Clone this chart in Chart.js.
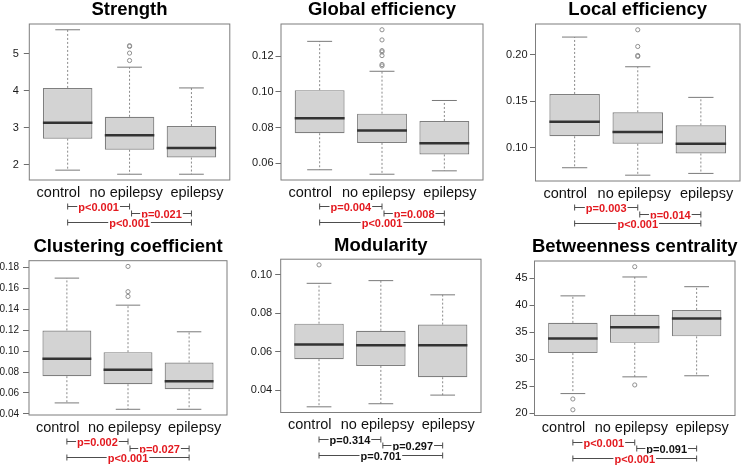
<!DOCTYPE html>
<html><head><meta charset="utf-8">
<script src="https://cdn.jsdelivr.net/npm/chart.js@4.4.0/dist/chart.umd.min.js"></script>
<style>
html,body{margin:0;padding:0;background:#fff;overflow:hidden;width:742px;height:466px;position:relative}
canvas{position:absolute}
</style></head><body>
<script>
// ---------- data ----------
const categories = ['control', 'no epilepsy', 'epilepsy'];
const bracketPairs = [[1, 2], [2, 3], [1, 3]];

const strengthTitle = 'Strength';
const strengthMin = [1.86, 1.75, 1.75];
const strengthQ1 = [2.71, 2.41, 2.20];
const strengthMedian = [3.14, 2.80, 2.46];
const strengthQ3 = [4.08, 3.30, 3.05];
const strengthMax = [5.65, 4.64, 4.08];
const strengthOutliers = [[], [5.22, 5.20, 5.02, 4.82], []];
const strengthTicks = ['2', '3', '4', '5'];
const strengthP = ['p<0.001', 'p=0.021', 'p<0.001'];

const globalTitle = 'Global efficiency';
const globalMin = [0.0563, 0.0538, 0.0557];
const globalQ1 = [0.0768, 0.0714, 0.0649];
const globalMedian = [0.0852, 0.0783, 0.0712];
const globalQ3 = [0.1010, 0.0878, 0.0837];
const globalMax = [0.1284, 0.1116, 0.0952];
const globalOutliers = [[], [0.1349, 0.1292, 0.1232, 0.1225, 0.1204, 0.1154, 0.1146], []];
const globalTicks = ['0.06', '0.08', '0.10', '0.12'];
const globalP = ['p=0.004', 'p=0.008', 'p<0.001'];

const localTitle = 'Local efficiency';
const localMin = [0.0786, 0.0706, 0.0725];
const localQ1 = [0.1124, 0.1043, 0.0939];
const localMedian = [0.1279, 0.1171, 0.1043];
const localQ3 = [0.1579, 0.1382, 0.1242];
const localMax = [0.2190, 0.1871, 0.1542];
const localOutliers = [[], [0.2268, 0.2089, 0.1992, 0.1982], []];
const localTicks = ['0.10', '0.15', '0.20'];
const localP = ['p=0.003', 'p=0.014', 'p<0.001'];

const clusteringTitle = 'Clustering coefficient';
const clusteringMin = [0.0505, 0.0444, 0.0444];
const clusteringQ1 = [0.0761, 0.0684, 0.0636];
const clusteringMedian = [0.0927, 0.0822, 0.0713];
const clusteringQ3 = [0.1199, 0.0991, 0.0892];
const clusteringMax = [0.1700, 0.1441, 0.1186];
const clusteringOutliers = [[], [0.1812, 0.1570, 0.1525], []];
const clusteringTicks = ['0.04', '0.06', '0.08', '0.10', '0.12', '0.14', '0.16', '0.18'];
const clusteringP = ['p=0.002', 'p=0.027', 'p<0.001'];

const modularityTitle = 'Modularity';
const modularityMin = [0.0313, 0.0329, 0.0374];
const modularityQ1 = [0.0561, 0.0526, 0.0467];
const modularityMedian = [0.0638, 0.0633, 0.0633];
const modularityQ3 = [0.0746, 0.0709, 0.0741];
const modularityMax = [0.0956, 0.0970, 0.0896];
const modularityOutliers = [[0.1052], [], []];
const modularityTicks = ['0.04', '0.06', '0.08', '0.10'];
const modularityP = ['p=0.314', 'p=0.297', 'p=0.701'];

const betweennessTitle = 'Betweenness centrality';
const betweennessMin = [23.6, 26.7, 26.9];
const betweennessQ1 = [31.1, 33.0, 34.2];
const betweennessMedian = [33.8, 35.9, 37.5];
const betweennessQ3 = [36.7, 38.2, 39.1];
const betweennessMax = [41.7, 45.2, 43.4];
const betweennessOutliers = [[22.6, 20.6], [47.1, 25.2], []];
const betweennessTicks = ['20', '25', '30', '35', '40', '45'];
const betweennessP = ['p<0.001', 'p=0.091', 'p<0.001'];

// ---------- layout (kept apart from the data) ----------
// where the category labels sit along the x axis (the source spreads them a little)
const xLabelPositions = [0.85, 1.945, 3.09];

const panels = [
  { title: strengthTitle, min: strengthMin, q1: strengthQ1, med: strengthMedian, q3: strengthQ3, max: strengthMax, out: strengthOutliers, ticks: strengthTicks, p: strengthP,
    L: 29.3, R: 229.8, T: 24, B: 180, tickFont: 11, tickLen: 5.5, tickPad: 5 },
  { title: globalTitle, min: globalMin, q1: globalQ1, med: globalMedian, q3: globalQ3, max: globalMax, out: globalOutliers, ticks: globalTicks, p: globalP,
    L: 281, R: 483, T: 24, B: 180, tickFont: 11, tickLen: 5.5, tickPad: 2 },
  { title: localTitle, min: localMin, q1: localQ1, med: localMedian, q3: localQ3, max: localMax, out: localOutliers, ticks: localTicks, p: localP,
    L: 535.5, R: 740, T: 24, B: 181, tickFont: 11, tickLen: 5.5, tickPad: 2.5 },
  { title: clusteringTitle, min: clusteringMin, q1: clusteringQ1, med: clusteringMedian, q3: clusteringQ3, max: clusteringMax, out: clusteringOutliers, ticks: clusteringTicks, p: clusteringP,
    L: 29, R: 227, T: 260.7, B: 415, tickFont: 10, tickLen: 6, tickPad: 4 },
  { title: modularityTitle, min: modularityMin, q1: modularityQ1, med: modularityMedian, q3: modularityQ3, max: modularityMax, out: modularityOutliers, ticks: modularityTicks, p: modularityP,
    L: 280.7, R: 481, T: 259.2, B: 412.5, tickFont: 11, tickLen: 5.5, tickPad: 3 },
  { title: betweennessTitle, min: betweennessMin, q1: betweennessQ1, med: betweennessMedian, q3: betweennessQ3, max: betweennessMax, out: betweennessOutliers, ticks: betweennessTicks, p: betweennessP,
    L: 534.5, R: 735, T: 261, B: 415.5, tickFont: 11, tickLen: 5, tickPad: 2 }
];

const FONT = '"Liberation Sans", Arial, Helvetica, sans-serif';
const AXIS_W = 32, TITLE_H = 24.5, XAXIS_H = 50;

function sigColor(p) {
  const v = parseFloat(p.replace(/^p[<=]/, ''));
  return v < 0.05 ? '#e3191f' : '#111111';
}

const framePlugin = {
  id: 'frame',
  beforeDatasetsDraw(chart) {
    const { ctx, chartArea: a } = chart;
    ctx.save();
    ctx.strokeStyle = '#7d7d7d';
    ctx.lineWidth = 1;
    ctx.strokeRect(a.left, a.top, a.right - a.left, a.bottom - a.top);
    ctx.restore();
  }
};

const bracketPlugin = {
  id: 'brackets',
  afterDraw(chart, args, opts) {
    const xs = chart.scales.x, ctx = chart.ctx, b = chart.chartArea.bottom;
    const offs = [26, 32.5, 42];
    ctx.save();
    ctx.font = 'bold 11px ' + FONT;
    ctx.textAlign = 'center';
    ctx.textBaseline = 'middle';
    (opts.pvals || []).forEach((p, k) => {
      const pr = bracketPairs[k];
      const x1 = xs.getPixelForValue(pr[0]) + (k === 1 ? 2 : 0);
      const x2 = xs.getPixelForValue(pr[1]);
      const y = Math.round(b + offs[k]) + 0.5;
      ctx.strokeStyle = '#4d4d4d';
      ctx.lineWidth = 1;
      ctx.beginPath();
      ctx.moveTo(x1, y); ctx.lineTo(x2, y);
      ctx.moveTo(x1, y - 3); ctx.lineTo(x1, y + 3);
      ctx.moveTo(x2, y - 3); ctx.lineTo(x2, y + 3);
      ctx.stroke();
      const w = ctx.measureText(p).width;
      const xm = (x1 + x2) / 2;
      ctx.fillStyle = '#ffffff';
      ctx.fillRect(xm - w / 2 - 1, y - 5, w + 2, 10);
      ctx.fillStyle = sigColor(p);
      ctx.fillText(p, xm, y + 1);
    });
    ctx.restore();
  }
};

function makePanel(s) {
  const n = categories.length;
  const all = [].concat(s.min, s.max, ...s.out);
  const dlo = Math.min(...all), dhi = Math.max(...all);
  const r = dhi - dlo;
  const yLo = dlo - 0.04 * r, yHi = dhi + 0.04 * r;
  const xLo = 0.5 - 0.04 * n, xHi = n + 0.5 + 0.04 * n;
  const tickVals = s.ticks.map(parseFloat);

  const canvasLeft = Math.floor(s.L - AXIS_W);
  const padL = (s.L - AXIS_W) - canvasLeft;
  const canvasW = Math.ceil(s.R + AXIS_W - canvasLeft);
  const padR = canvasLeft + canvasW - (s.R + AXIS_W);
  const canvasTop = Math.floor(s.T - TITLE_H);
  const padT = (s.T - TITLE_H) - canvasTop;
  const canvasH = Math.ceil(s.B + XAXIS_H - canvasTop);
  const xh = canvasTop + canvasH - s.B;

  const cv = document.createElement('canvas');
  cv.width = canvasW; cv.height = canvasH;
  cv.style.left = canvasLeft + 'px'; cv.style.top = canvasTop + 'px';
  cv.style.width = canvasW + 'px'; cv.style.height = canvasH + 'px';
  document.body.appendChild(cv);

  const boxes = [], whisk = [], caps = [], meds = [], outs = [];
  for (let i = 0; i < n; i++) {
    const x = i + 1;
    boxes.push({ x, y: [s.q1[i], s.q3[i]] });
    whisk.push({ x, y: s.q3[i] }, { x, y: s.max[i] }, { x, y: null },
               { x, y: s.q1[i] }, { x, y: s.min[i] }, { x, y: null });
    caps.push({ x: x - 0.2, y: s.max[i] }, { x: x + 0.2, y: s.max[i] }, { x, y: null },
              { x: x - 0.2, y: s.min[i] }, { x: x + 0.2, y: s.min[i] }, { x, y: null });
    meds.push({ x: x - 0.4, y: s.med[i] }, { x: x + 0.4, y: s.med[i] }, { x, y: null });
    s.out[i].forEach(v => outs.push({ x, y: v }));
  }

  new Chart(cv, {
    type: 'bar',
    data: {
      datasets: [
        { type: 'line', data: meds, order: 0, borderColor: '#333333', borderWidth: 2.5, pointRadius: 0, spanGaps: false, fill: false },
        { type: 'scatter', data: outs, order: 1, pointStyle: 'circle', pointRadius: 2.1, borderWidth: 1, borderColor: '#8f8f8f', backgroundColor: 'rgba(0,0,0,0)' },
        { type: 'line', data: caps, order: 2, borderColor: '#7a7a7a', borderWidth: 1, pointRadius: 0, spanGaps: false, fill: false },
        { type: 'line', data: whisk, order: 3, borderColor: '#8a8a8a', borderWidth: 1, borderDash: [2, 2], pointRadius: 0, spanGaps: false, fill: false },
        { type: 'bar', data: boxes, order: 4, backgroundColor: '#d3d3d3', borderColor: '#7f7f7f', borderWidth: 1.2, borderSkipped: false, barPercentage: 1, categoryPercentage: 0.8 }
      ]
    },
    options: {
      responsive: false,
      devicePixelRatio: 1,
      animation: false,
      events: [],
      layout: { padding: { left: padL, right: padR, top: padT, bottom: 0 } },
      plugins: {
        legend: { display: false },
        tooltip: { enabled: false },
        title: { display: true, text: s.title, color: '#000000',
                 font: { family: FONT, size: 18.5, weight: 'bold', lineHeight: 1 },
                 padding: { top: 1.5, bottom: 4.5 } },
        brackets: { pvals: s.p }
      },
      scales: {
        x: {
          type: 'linear', min: xLo, max: xHi, offset: false,
          afterBuildTicks: sc => { sc.ticks = xLabelPositions.map(v => ({ value: v })); },
          afterFit: sc => { sc.height = xh; },
          grid: { display: false, drawTicks: false, offset: false },
          border: { display: false },
          ticks: { autoSkip: false, maxRotation: 0, minRotation: 0, padding: 4, color: '#111111',
                   font: { family: FONT, size: 14.5 }, callback: (v, i) => categories[i] }
        },
        y: {
          type: 'linear', position: 'left', min: yLo, max: yHi, beginAtZero: false,
          afterBuildTicks: sc => { sc.ticks = tickVals.map(v => ({ value: v })); },
          afterFit: sc => { sc.width = AXIS_W; },
          grid: { display: true, drawOnChartArea: false, drawTicks: true, tickLength: s.tickLen, color: '#6e6e6e', lineWidth: 1 },
          border: { display: false },
          ticks: { autoSkip: false, padding: s.tickPad, color: '#1a1a1a',
                   font: { family: FONT, size: s.tickFont }, callback: (v, i) => s.ticks[i] }
        },
        y2: {
          type: 'linear', position: 'right', display: true,
          afterFit: sc => { sc.width = AXIS_W; },
          grid: { display: false, drawTicks: false },
          border: { display: false },
          ticks: { display: false }
        }
      }
    },
    plugins: [framePlugin, bracketPlugin]
  });
}

panels.forEach(makePanel);
</script>
</body></html>
